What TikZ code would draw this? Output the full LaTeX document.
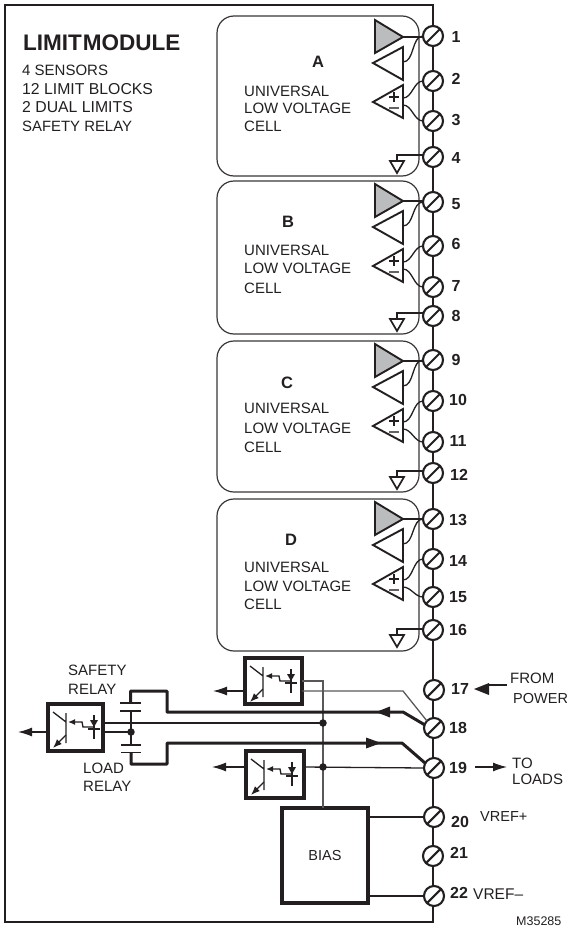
\documentclass[tikz,border=0pt]{standalone}
\usepackage{fontspec}
\setmainfont{Liberation Sans}
\usetikzlibrary{arrows.meta}
\definecolor{ink}{HTML}{231F20}
\definecolor{greytri}{HTML}{BBBCBE}
\tikzset{
  terminal/.style={circle,draw=ink,fill=white,line width=2.1pt,minimum size=20pt,inner sep=0pt,outer sep=0pt,
    path picture={\draw[ink,line width=2.1pt] (path picture bounding box.south west)--(path picture bounding box.north east);}},
  tnum/.style={font=\bfseries\fontsize{16}{16}\selectfont,text=ink,inner sep=0pt},
  lbl/.style={font=\fontsize{15}{15}\selectfont,text=ink,inner sep=0pt,anchor=base west},
  cellbox/.style={draw=ink!90,line width=1.2pt,rounded corners=17pt,inner sep=0pt,outer sep=0pt,anchor=north west},
  thickbox/.style={draw=ink,line width=3.6pt,inner sep=0pt,outer sep=0pt,anchor=north west},
  wire/.style={draw=ink,line width=1.3pt},
  greywire/.style={draw=ink!75,line width=1.3pt},
  heavy/.style={draw=ink,line width=3pt,line join=round},
  tri/.style={draw=ink,line width=1.9pt,line join=miter},
  outarrow/.style={draw=ink,line width=1.3pt,-{Latex[length=14pt,width=9pt]}},
  dotnode/.style={circle,fill=ink,inner sep=0pt,minimum size=7.5pt},
}
% cell: name, top, height, dy of sensors, four terminals, ground wire y
\newcommand{\sensorcell}[9]{%
  \node[cellbox,minimum width=202pt,minimum height=#3pt] (cell#1) at (217,#2) {};
  \begin{scope}[yshift=-#4pt]
    \coordinate (#1g) at (403,37);
    \coordinate (#1o) at (403,62);
    \coordinate (#1p) at (403,98);
    \coordinate (#1m) at (403,105);
    \draw[tri,fill=greytri] (375,20)--(375,53)--(403,37)--cycle;
    \draw[tri] (373,63)--(403,47)--(403,80)--cycle;
    \draw[tri] (373,102)--(403,85)--(403,118)--cycle;
    \draw[ink,line width=1.6pt] (389,97)--(399,97) (394,92)--(394,102);
    \draw[ink!70,line width=1.6pt] (389,108)--(399,108);
    \draw[wire] (#1g)--(#5.west |- #1g);
    \draw[wire] (#1o) to[out=0,in=180,looseness=.9] (#5.west);
    \draw[wire] (#1p) to[out=0,in=180,looseness=.9] (#6.west);
    \draw[wire] (#1m) to[out=0,in=180,looseness=.9] (#7.west);
  \end{scope}
  \coordinate (#1gt) at (397,#9);
  \draw[wire] (#8.west |- #1gt) -- (#1gt) -- ([yshift=-6pt]#1gt);
  \draw[tri,line width=1.7pt] ([xshift=-7pt,yshift=-6pt]#1gt)--([xshift=7pt,yshift=-6pt]#1gt)--([yshift=-18pt]#1gt)--cycle;
}
\newcommand{\relaysym}[3]{% name, top-left of the box outline
  \begin{scope}[shift={(#2,#3)}]
    \draw[wire] (18,9)--(18,39) (5,8)--(18,18);
    \draw[wire,-{Latex[length=9pt,width=7pt]}] (18,31)--(5,44);
    \draw[wire,-{Latex[length=7pt,width=6pt]}] (45,23)--(35,23)--(34,18)--(20,18);
    \draw[wire] (46,11)--(46,35) (40,25)--(52,25);
    \fill[ink] (42,16)--(50,16)--(46,23)--cycle;
  \end{scope}
}
\begin{document}
\begin{tikzpicture}[x=1pt,y=-1pt]
\useasboundingbox (0,0) rectangle (567,926);
\node[draw=ink,line width=2.4pt,minimum width=428pt,minimum height=917pt,anchor=north west,inner sep=0pt,outer sep=0pt] (frame) at (5,5) {};

% terminals
\foreach \n/\x/\y in {1/433/36,2/433/81,3/433/121,4/433/157,5/433/202,6/433/246,7/433/287,8/433/316,
  9/433/360,10/433/401,11/433/442,12/433/473,13/433/519,14/433/559,15/433/597,16/433/630,
  17/434/690,18/434/728,19/434/768,20/434/817,21/433/856,22/434/896}
  \node[terminal] (t\n) at (\x,\y) {};
\foreach \n/\x/\y in {1/456/37,2/456/79,3/456/120,4/456/158,5/456/204,6/456/244,7/456/286,8/456/316,
  9/456/360,10/458/400,11/458/441,12/459/475,13/458/520,14/458/561,15/458/597,16/458/630,
  17/460/689,18/458/728,19/458/768,20/460/822,21/459/853,22/459/893}
  \node[tnum] at (\x,\y) {\n};

% cells
\sensorcell{A}{16}{160}{0}{t1}{t2}{t3}{t4}{155}
\sensorcell{B}{181}{153}{164}{t5}{t6}{t7}{t8}{313}
\sensorcell{C}{341}{151}{324}{t9}{t10}{t11}{t12}{471}
\sensorcell{D}{499}{152}{482}{t13}{t14}{t15}{t16}{629}

% title
\node[lbl,font=\bfseries\fontsize{22.5}{23}\selectfont] at (23,50) {LIMIT\hspace{1pt}MODULE};
\node[lbl] at (22,75) {4 SENSORS};
\node[lbl,font=\fontsize{15.8}{16}\selectfont] at (22,94) {12 LIMIT BLOCKS};
\node[lbl,font=\fontsize{15.8}{16}\selectfont] at (22,112) {2 DUAL LIMITS};
\node[lbl,font=\fontsize{14.9}{15}\selectfont] at (22,131) {SAFETY RELAY};

% cell text
\foreach \ltr/\lx/\ly/\a/\b/\c in {A/318/62/96/113/131,B/288/222/255/273/293,C/287/383/413/433/452,D/291/540/572/591/609}{
  \node[font=\bfseries\fontsize{16.5}{16}\selectfont,text=ink,inner sep=0pt] at (\lx,\ly) {\ltr};
  \node[lbl] at (244,\a) {UNIVERSAL};
  \node[lbl] at (244,\b) {LOW VOLTAGE};
  \node[lbl] at (244,\c) {CELL};
}

% relay boxes and bias
\node[thickbox,minimum width=57pt,minimum height=46pt] (r1) at (245,658) {};
\node[thickbox,minimum width=55pt,minimum height=47pt] (r2) at (48,704) {};
\node[thickbox,minimum width=58pt,minimum height=47pt] (r3) at (246,751) {};
\node[thickbox,minimum width=86pt,minimum height=95pt,font=\fontsize{14.5}{15}\selectfont,text=ink] (bias) at (282,808) {BIAS};
\relaysym{r1}{245}{658}
\relaysym{r2}{48}{704}
\relaysym{r3}{246}{751}

% output arrows
\coordinate (o1) at (213,691);
\coordinate (o2) at (18,732);
\coordinate (o3) at (212,767);
\draw[outarrow] (r1.west |- o1)--(o1);
\draw[outarrow] (r2.west |- o2)--(o2);
\draw[outarrow] (r3.west |- o3)--(o3);

% thin wires
\coordinate (j1) at (323,723);
\coordinate (j2) at (323,767);
\coordinate (j3) at (131,732);
\coordinate (capA) at (131,711);
\coordinate (capB) at (131,745);
\coordinate (b1) at (323,681);
\coordinate (g1) at (403,691);
\draw[greywire] (r1.east |- b1)--(b1)--(bias.north -| b1);
\draw[greywire] (r1.east |- g1)--(g1)--(t18.north west);
\draw[wire] (r2.east |- j1)--(j1);
\draw[wire] (r2.east |- j3)--(j3);
\draw[wire] (capA)--(capB);
\draw[wire] (r3.east |- j2)--(t19.west);
\draw[wire] (bias.east |- t20)--(t20.west);
\draw[wire] (bias.east |- t22)--(t22.west);
\node[dotnode] at (j1) {};
\node[dotnode] at (j2) {};
\node[dotnode] at (j3) {};

% capacitors
\draw[ink,line width=1.6pt] (120,703)--(141,703) (120,711)--(141,711);
\draw[ink,line width=1.6pt] (121,745)--(141,745) (121,752.5)--(141,752.5);

% heavy relay wires
\coordinate (h1) at (403,712);
\coordinate (h2) at (402,743);
\draw[heavy] (t18.west) ++(1,-3) -- (h1) -- (167,712) -- (167,691) -- (130.5,691) -- (130.5,703);
\draw[heavy] (t19.west) ++(1,-5) -- (h2) -- (167,743) -- (167,764) -- (131,764) -- (131,752.5);
\fill[ink] (376,712)--(390,706.5)--(390,717.5)--cycle;
\fill[ink] (381,743)--(366,737.5)--(366,748.5)--cycle;

% external notes
\coordinate (p1) at (507,685);
\coordinate (p2) at (475,767);
\coordinate (p3) at (507,767);
\draw[ink,line width=1.6pt] (p1)--(488,685);
\fill[ink] (474,689)--(489,683)--(489,695)--cycle;
\draw[outarrow,line width=1.3pt] (p2)--(p3);
\node[lbl] at (510,683) {FROM};
\node[lbl,font=\fontsize{14.5}{15}\selectfont] at (513,703) {POWER};
\node[lbl] at (512,768) {TO};
\node[lbl] at (512,784) {LOADS};
\node[lbl,font=\fontsize{14.5}{15}\selectfont] at (480,821) {VREF+};
\node[lbl,font=\fontsize{15.5}{16}\selectfont] at (473,899) {VREF–};
\node[lbl] at (68,675) {SAFETY};
\node[lbl] at (68,694) {RELAY};
\node[lbl] at (83,773) {LOAD};
\node[lbl] at (83,791) {RELAY};
\node[lbl,font=\fontsize{12.5}{13}\selectfont] at (516,925) {M35285};
\end{tikzpicture}
\end{document}
